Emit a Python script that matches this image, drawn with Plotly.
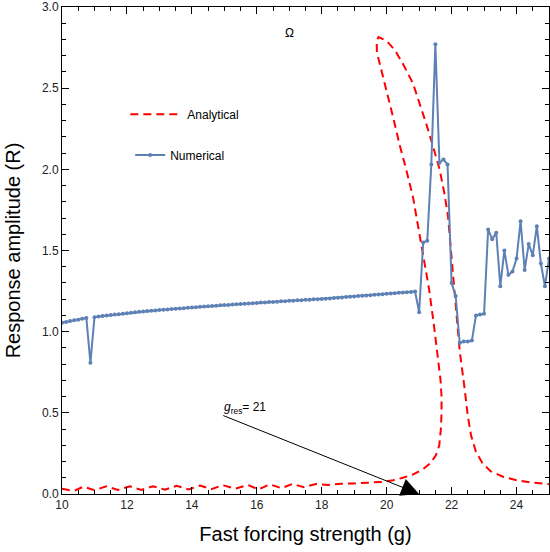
import numpy as np
import plotly.graph_objects as go

# numerical sweep, g from 10 to 25 in steps of 0.125
num_g = np.arange(121) * 0.125 + 10
num_r = [
    1.055, 1.060, 1.065, 1.070, 1.074, 1.079, 1.084,
    0.808,
    1.089, 1.093, 1.096, 1.099, 1.102, 1.105, 1.108, 1.111, 1.114,
    1.116, 1.119, 1.122, 1.124, 1.127, 1.129, 1.131, 1.133, 1.135, 1.137,
    1.139, 1.141, 1.143, 1.145, 1.147, 1.149, 1.151, 1.153, 1.155, 1.157,
    1.158, 1.160, 1.162, 1.164, 1.165, 1.167, 1.169, 1.170, 1.172, 1.174,
    1.175, 1.177, 1.179, 1.180, 1.182, 1.183, 1.185, 1.187, 1.188, 1.190,
    1.191, 1.193, 1.194, 1.196, 1.197, 1.199, 1.200, 1.202, 1.203, 1.205,
    1.207, 1.209, 1.211, 1.213, 1.215, 1.217, 1.219, 1.221, 1.223, 1.225,
    1.227, 1.229, 1.231, 1.233, 1.235, 1.237, 1.239, 1.241, 1.243, 1.245, 1.247,
    1.12, 1.55, 1.56, 2.03, 2.77, 2.04, 2.06, 2.03, 1.30, 1.22, 0.93, 0.94,
    0.94, 0.945, 1.10, 1.105, 1.11,
    1.63, 1.57, 1.61, 1.28, 1.50, 1.35, 1.37, 1.45, 1.68, 1.38, 1.54, 1.47,
    1.65, 1.42, 1.28, 1.45,
]
assert len(num_r) == len(num_g)

# analytical branch (low branch -> loop -> right tail)
ana_g = [
    10.0, 10.2, 10.4, 10.66, 11.0, 11.37, 11.72, 12.09, 12.45, 12.8, 13.17,
    13.53, 13.9, 14.25, 14.6, 14.95, 15.35, 15.72, 16.05, 16.4, 16.75, 17.1,
    17.45, 17.82, 18.2, 18.6, 19.0, 19.5, 19.9, 20.2, 20.5, 20.8, 21.1, 21.35,
    21.52, 21.62, 21.67, 21.69, 21.69,
    21.66, 21.58, 21.45, 21.3, 21.15, 20.98, 20.81, 20.6, 20.4, 20.2, 20.0,
    19.82, 19.7, 19.69, 19.75,
    19.9, 20.05, 20.25, 20.5, 20.81, 21.0, 21.22, 21.4, 21.63, 21.78, 21.89,
    21.98, 22.05, 22.15, 22.25, 22.4, 22.5, 22.6, 22.75, 22.95, 23.2, 23.6,
    24.0, 24.5, 25.0,
]
ana_r = [
    0.033, 0.024, 0.022, 0.045, 0.024, 0.047, 0.025, 0.047, 0.025, 0.048, 0.027,
    0.05, 0.028, 0.052, 0.03, 0.054, 0.033, 0.056, 0.028, 0.06, 0.036, 0.062,
    0.042, 0.062, 0.056, 0.063, 0.065, 0.068, 0.075, 0.085, 0.1, 0.12, 0.15, 0.19,
    0.24, 0.3, 0.4, 0.5, 0.6,
    0.7, 0.85, 1.05, 1.27, 1.45, 1.65, 1.83, 2.0, 2.15, 2.32, 2.48,
    2.62, 2.72, 2.79, 2.815,
    2.80, 2.78, 2.735, 2.65, 2.53, 2.42, 2.28, 2.16, 2.0, 1.85, 1.71,
    1.5, 1.33, 1.1, 0.88, 0.65, 0.48, 0.36, 0.26, 0.19, 0.14, 0.105,
    0.085, 0.07, 0.06,
]

FONT = "Liberation Sans, Arial, sans-serif"

fig = go.Figure()
fig.add_trace(go.Scatter(
    x=ana_g, y=ana_r, mode="lines", name="Analytical",
    line=dict(color="#ff0000", width=2, dash="8px,5px"),
    legend="legend", showlegend=True,
))
fig.add_trace(go.Scatter(
    x=num_g, y=num_r, mode="lines+markers", name="Numerical",
    line=dict(color="#5e81b5", width=2),
    marker=dict(color="#5e81b5", size=4),
    legend="legend2", showlegend=True,
))

axis_common = dict(
    showline=True, linecolor="#000", linewidth=1, mirror="ticks",
    ticks="inside", ticklen=7, tickcolor="#000", tickwidth=1,
    showgrid=False, zeroline=False, automargin=False,
    tickfont=dict(family=FONT, size=12, color="#222"),
)

fig.update_layout(
    width=550, height=552,
    margin=dict(l=62, r=1, t=7, b=58),
    paper_bgcolor="white", plot_bgcolor="white",
    font=dict(family=FONT, color="#000"),
    showlegend=True,
    xaxis=dict(
        range=[10, 25], dtick=2, tick0=10,
        minor=dict(dtick=0.5, ticklen=4, ticks="inside", tickcolor="#000"),
        title=dict(text="Fast forcing strength (g)", font=dict(size=20)),
        **axis_common,
    ),
    yaxis=dict(
        range=[0, 3], dtick=0.5, tick0=0, tickformat=".1f",
        minor=dict(dtick=0.1, ticklen=4, ticks="inside", tickcolor="#000"),
        title=dict(text="Response amplitude (R)", font=dict(size=20)),
        **axis_common,
    ),
    legend=dict(
        x=0.13, y=0.78, xanchor="left", yanchor="middle",
        bgcolor="rgba(0,0,0,0)", itemwidth=52,
        font=dict(family=FONT, size=12),
    ),
    legend2=dict(
        x=0.14, y=0.696, xanchor="left", yanchor="middle",
        bgcolor="rgba(0,0,0,0)", itemwidth=30,
        font=dict(family=FONT, size=12),
    ),
    annotations=[
        dict(x=17.02, y=2.84, xref="x", yref="y", text="Ω", showarrow=False,
             font=dict(family=FONT, size=12)),
        dict(x=14.92, y=0.53, xref="x", yref="y", xanchor="left",
             text="<i>g</i><sub>res</sub>= 21", showarrow=False,
             font=dict(family=FONT, size=12)),
        dict(x=21.0, y=0.0, xref="x", yref="y", ax=14.92, ay=0.487,
             axref="x", ayref="y", text="", showarrow=True,
             arrowhead=2, arrowsize=3.6, arrowwidth=1, arrowcolor="#000"),
    ],
)

fig.write_html("out.html", config={"displayModeBar": False},
               post_script="document.body.style.margin='0';")
